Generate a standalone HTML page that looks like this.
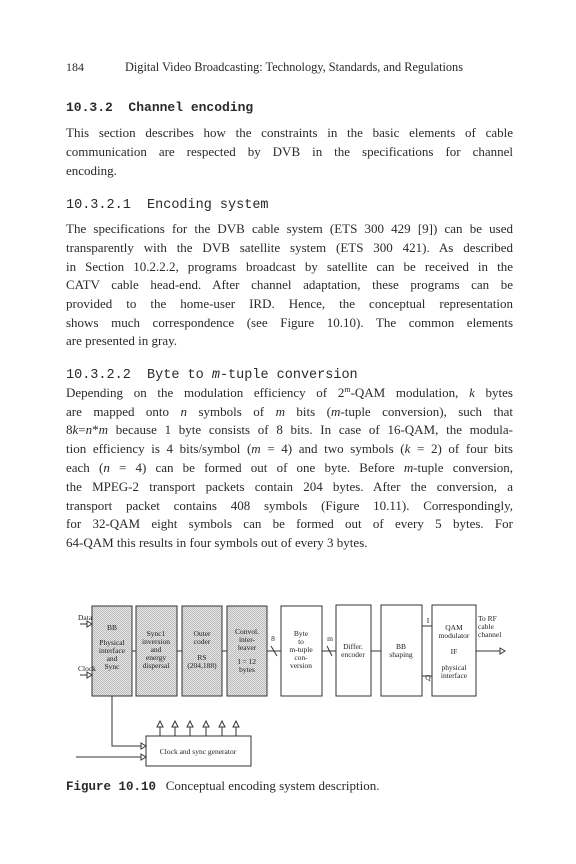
<!DOCTYPE html>
<html><head><meta charset="utf-8"><style>
body{margin:0;background:#fff;}
.pg{position:relative;width:576px;height:864px;font-family:"Liberation Serif",serif;color:#2a2a2a;}
.t{position:absolute;left:66px;width:447px;font-size:13px;line-height:18.8px;text-align:justify;text-align-last:justify;white-space:nowrap;}
.l{position:absolute;left:66px;font-size:13px;line-height:18.8px;white-space:nowrap;}
.h{position:absolute;left:66px;font-family:"Liberation Mono",monospace;font-weight:bold;font-size:13px;white-space:nowrap;}
.h3{position:absolute;left:66px;font-family:"Liberation Mono",monospace;font-size:13.5px;white-space:nowrap;}
sup{font-size:8px;line-height:0;vertical-align:5px;}
</style></head><body><div class="pg">
<div class="l" style="top:58px;font-size:12px;">184</div>
<div class="l" style="top:58px;left:125px;font-size:12.3px;">Digital Video Broadcasting: Technology, Standards, and Regulations</div>
<div class="h" style="top:100px;">10.3.2&nbsp;&nbsp;Channel encoding</div>
<div class="t" style="top:124px;">This section describes how the constraints in the basic elements of cable</div>
<div class="t" style="top:143px;">communication are respected by DVB in the specifications for channel</div>
<div class="l" style="top:162px;">encoding.</div>
<div class="h3" style="top:198px;">10.3.2.1&nbsp;&nbsp;Encoding system</div>
<div class="t" style="top:220px;">The specifications for the DVB cable system (ETS 300 429 [9]) can be used</div>
<div class="t" style="top:239px;">transparently with the DVB satellite system (ETS 300 421). As described</div>
<div class="t" style="top:258px;">in Section 10.2.2.2, programs broadcast by satellite can be received in the</div>
<div class="t" style="top:276px;">CATV cable head-end. After channel adaptation, these programs can be</div>
<div class="t" style="top:295px;">provided to the home-user IRD. Hence, the conceptual representation</div>
<div class="t" style="top:314px;">shows much correspondence (see Figure 10.10). The common elements</div>
<div class="l" style="top:332px;">are presented in gray.</div>
<div class="h3" style="top:368px;">10.3.2.2&nbsp;&nbsp;Byte to <i>m</i>-tuple conversion</div>
<div class="t" style="top:384px;">Depending on the modulation efficiency of 2<sup>m</sup>-QAM modulation, <i>k</i> bytes</div>
<div class="t" style="top:403px;">are mapped onto <i>n</i> symbols of <i>m</i> bits (<i>m</i>-tuple conversion), such that</div>
<div class="t" style="top:421px;">8<i>k</i>=<i>n</i>*<i>m</i> because 1 byte consists of 8 bits. In case of 16-QAM, the modula-</div>
<div class="t" style="top:440px;">tion efficiency is 4 bits/symbol (<i>m</i> = 4) and two symbols (<i>k</i> = 2) of four bits</div>
<div class="t" style="top:459px;">each (<i>n</i> = 4) can be formed out of one byte. Before <i>m</i>-tuple conversion,</div>
<div class="t" style="top:478px;">the MPEG-2 transport packets contain 204 bytes. After the conversion, a</div>
<div class="t" style="top:497px;">transport packet contains 408 symbols (Figure 10.11). Correspondingly,</div>
<div class="t" style="top:515px;">for 32-QAM eight symbols can be formed out of every 5 bytes. For</div>
<div class="l" style="top:534px;">64-QAM this results in four symbols out of every 3 bytes.</div>

<svg style="position:absolute;left:0;top:0" width="576" height="864" font-family="Liberation Serif,serif" font-size="7.5" fill="#222" text-anchor="middle">
<defs><pattern id="g" width="2" height="2" patternUnits="userSpaceOnUse"><rect width="2" height="2" fill="#e6e6e6"/><rect width="1" height="1" fill="#bbb"/><rect x="1" y="1" width="1" height="1" fill="#bbb"/></pattern></defs>
<g stroke="#333" stroke-width="1">
<rect x="92" y="606" width="40" height="90" fill="url(#g)"/>
<rect x="136" y="606" width="41" height="90" fill="url(#g)"/>
<rect x="182" y="606" width="40" height="90" fill="url(#g)"/>
<rect x="227" y="606" width="40" height="90" fill="url(#g)"/>
<rect x="281" y="606" width="41" height="90" fill="#fff"/>
<rect x="336" y="605" width="35" height="91" fill="#fff"/>
<rect x="381" y="605" width="41" height="91" fill="#fff"/>
<rect x="432" y="605" width="44" height="91" fill="#fff"/>
<rect x="146" y="736" width="105" height="30" fill="#fff"/>
<line x1="132" y1="651" x2="136" y2="651"/><line x1="177" y1="651" x2="182" y2="651"/><line x1="222" y1="651" x2="227" y2="651"/>
<line x1="267" y1="651" x2="281" y2="651"/><line x1="322" y1="651" x2="336" y2="651"/><line x1="371" y1="651" x2="381" y2="651"/>
<line x1="422" y1="626" x2="432" y2="626"/><line x1="422" y1="676" x2="432" y2="676"/>
<line x1="271" y1="646" x2="277" y2="656"/><line x1="327" y1="646" x2="332" y2="656"/>
<line x1="476" y1="651" x2="502" y2="651"/>
<line x1="80" y1="624" x2="88" y2="624"/><line x1="80" y1="675" x2="88" y2="675"/>
<polyline points="112,696 112,746 141,746" fill="none"/>
<line x1="76" y1="757" x2="141" y2="757"/>
<line x1="160" y1="736" x2="160" y2="726"/><line x1="175" y1="736" x2="175" y2="726"/><line x1="190" y1="736" x2="190" y2="726"/><line x1="206" y1="736" x2="206" y2="726"/><line x1="222" y1="736" x2="222" y2="726"/><line x1="236" y1="736" x2="236" y2="726"/>
</g>
<g fill="#fff" stroke="#333" stroke-width="1">
<path d="M87,621 L92,624 L87,627Z"/><path d="M87,672 L92,675 L87,678Z"/>
<path d="M141,743 L146,746 L141,749Z"/><path d="M141,754 L146,757 L141,760Z"/>
<path d="M500,648 L505,651 L500,654Z"/>
<path d="M157,727 L160,721 L163,727Z"/><path d="M172,727 L175,721 L178,727Z"/><path d="M187,727 L190,721 L193,727Z"/><path d="M203,727 L206,721 L209,727Z"/><path d="M219,727 L222,721 L225,727Z"/><path d="M233,727 L236,721 L239,727Z"/>
</g>
<g text-anchor="start"><text x="78" y="620">Data</text><text x="78" y="671">Clock</text><text x="478" y="621">To RF</text><text x="478" y="629">cable</text><text x="478" y="637">channel</text></g>
<text x="112" y="630">BB</text><text x="112" y="645">Physical</text><text x="112" y="653">interface</text><text x="112" y="661">and</text><text x="112" y="669">Sync</text>
<text x="156" y="636">Sync1</text><text x="156" y="644">inversion</text><text x="156" y="652">and</text><text x="156" y="660">energy</text><text x="156" y="668">dispersal</text>
<text x="202" y="636">Outer</text><text x="202" y="644">coder</text><text x="202" y="660">RS</text><text x="202" y="668">(204,188)</text>
<text x="247" y="634">Convol.</text><text x="247" y="642">inter-</text><text x="247" y="650">leaver</text><text x="247" y="664">I = 12</text><text x="247" y="672">bytes</text>
<text x="301" y="636">Byte</text><text x="301" y="644">to</text><text x="301" y="652">m-tuple</text><text x="301" y="660">con-</text><text x="301" y="668">version</text>
<text x="273" y="641">8</text><text x="330" y="641">m</text>
<text x="353" y="649">Differ.</text><text x="353" y="657">encoder</text>
<text x="401" y="649">BB</text><text x="401" y="657">shaping</text>
<text x="428" y="623">I</text><text x="428" y="680">Q</text>
<text x="454" y="630">QAM</text><text x="454" y="638">modulator</text><text x="454" y="654">IF</text><text x="454" y="670">physical</text><text x="454" y="678">interface</text>
<text x="198" y="754">Clock and sync generator</text>
</svg>
<div class="l" style="top:777px;font-size:13px;"><span style="font-family:'Liberation Mono',monospace;font-weight:bold;font-size:12.5px;">Figure 10.10</span>&nbsp;&nbsp;&nbsp;Conceptual encoding system description.</div>
</div></body></html>
